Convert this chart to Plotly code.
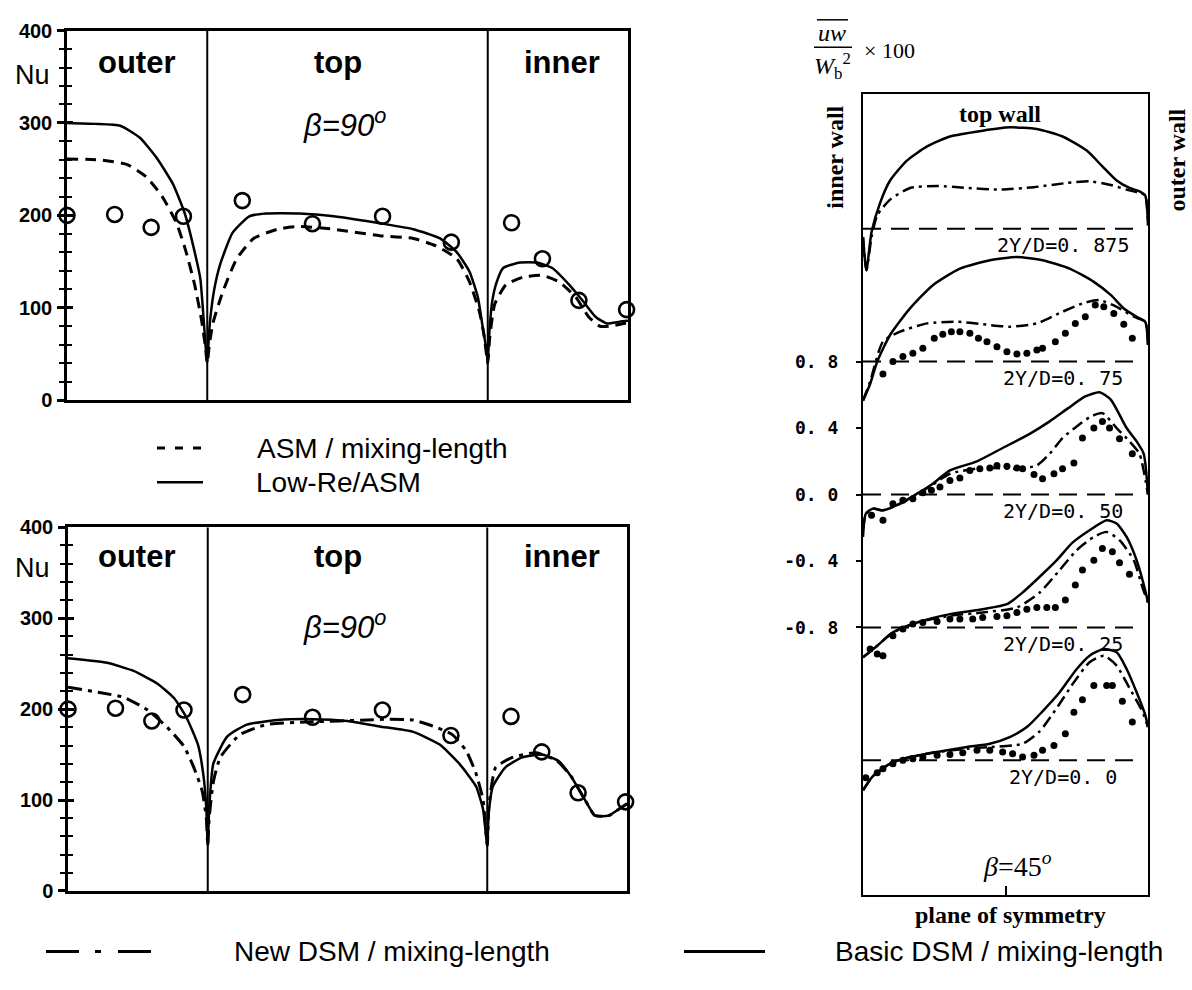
import plotly.graph_objects as go

# ---------------- data : Nusselt number (left panels) ----------------
SECTION_EDGES = [1, 3]                      # outer | top | inner wall boundaries
SECTION_LABELS = ["outer", "top", "inner"]
NU_TICKS = [0, 100, 200, 300, 400]

EXP_X = [0.0, 0.34, 0.60, 0.83, 1.25, 1.75, 2.25, 2.74, 3.17, 3.39, 3.65, 3.99]
EXP_NU = [200, 201, 187, 199, 216, 191, 199, 171, 192, 153, 108, 98]

ASM_X = [0, 0.235, 0.43, 0.57, 0.68, 0.78, 0.85, 0.91, 0.96, 0.985, 1.0, 1.015, 1.04, 1.11, 1.21,
         1.33, 1.50, 1.66, 1.9, 2.23, 2.47, 2.63, 2.78, 2.87, 2.94, 2.975, 3.0, 3.015, 3.05, 3.13,
         3.25, 3.39, 3.51, 3.63, 3.72, 3.8, 3.87, 4.0]
ASM_NU = [261, 260, 255, 241, 220, 192, 160, 125, 86, 60, 40, 60, 83, 117, 153,
          175, 185, 188, 185, 178, 175, 167, 153, 128, 96, 69, 40, 69, 104, 125,
          133, 135, 128, 111, 90, 80, 80, 84]

LOWRE_X = [0, 0.2, 0.38, 0.52, 0.64, 0.755, 0.84, 0.90, 0.95, 0.975, 0.99, 1.0, 1.01, 1.02, 1.05,
           1.09, 1.18, 1.30, 1.42, 1.66, 1.9, 2.25, 2.47, 2.66, 2.78, 2.87, 2.93, 2.96, 2.99, 3.0,
           3.01, 3.03, 3.06, 3.11, 3.23, 3.35, 3.46, 3.58, 3.68, 3.77, 3.85, 3.94, 4.0]
LOWRE_NU = [300, 299, 297, 284, 262, 234, 202, 167, 132, 86, 55, 40, 65, 86, 120,
            146, 181, 199, 202, 202, 199, 191, 185, 175, 160, 139, 111, 83, 55, 40,
            70, 105, 126, 143, 149, 149, 143, 125, 107, 90, 83, 85, 86]

NEWDSM_X = [0, 0.235, 0.40, 0.57, 0.71, 0.83, 0.9, 0.96, 0.99, 1.0, 1.01, 1.04, 1.09, 1.23, 1.42,
            1.75, 2.14, 2.3, 2.47, 2.6, 2.75, 2.85, 2.92, 2.97, 3.0, 3.01, 3.03, 3.06, 3.18, 3.35,
            3.5, 3.6, 3.7, 3.77, 3.87, 3.97, 4.0]
NEWDSM_NU = [224, 218, 213, 199, 180, 159, 136, 110, 80, 50, 80, 120, 147, 172, 183,
             186, 188, 189, 188, 182, 172, 154, 129, 100, 50, 90, 115, 136, 147, 152,
             143, 126, 100, 83, 83, 93, 96]

BASICDSM_X = [0, 0.28, 0.47, 0.64, 0.76, 0.85, 0.93, 0.97, 0.99, 1.0, 1.01, 1.04, 1.14, 1.28, 1.5,
              1.75, 2.0, 2.23, 2.47, 2.66, 2.8, 2.92, 2.97, 3.0, 3.01, 3.04, 3.13, 3.25, 3.39, 3.51,
              3.6, 3.7, 3.77, 3.87, 3.97, 4.0]
BASICDSM_NU = [256, 251, 242, 228, 212, 190, 161, 126, 90, 50, 90, 140, 170, 183, 188,
               189, 187, 181, 175, 161, 140, 115, 90, 50, 85, 115, 136, 147, 150, 143,
               126, 100, 83, 83, 93, 96]

# ---------------- data : uw / Wb^2 x 100 profiles (right panel) ----------------
PROFILE_LABELS = ["2Y/D=0. 875", "2Y/D=0. 75", "2Y/D=0. 50", "2Y/D=0. 25", "2Y/D=0. 0"]
PROFILE_OFFSETS = [1.6, 0.8, 0.0, -0.8, -1.6]
UW_TICKS = [0.8, 0.4, 0.0, -0.4, -0.8]
UW_TICK_TEXT = ["0. 8", "0. 4", "0. 0", "-0. 4", "-0. 8"]

BASIC_875_X = [0.0, 0.012, 0.03, 0.06, 0.095, 0.154, 0.225, 0.305, 0.42, 0.515, 0.61, 0.70, 0.785,
               0.84, 0.89, 0.935, 0.97, 0.99, 1.0]
BASIC_875 = [-0.05, -0.25, -0.02, 0.155, 0.29, 0.41, 0.495, 0.555, 0.59, 0.61, 0.60, 0.555, 0.47,
             0.375, 0.29, 0.245, 0.225, 0.20, 0.02]
NEW_875_X = [0.0, 0.012, 0.03, 0.05, 0.095, 0.165, 0.26, 0.365, 0.48, 0.6, 0.715, 0.795, 0.865,
             0.925, 0.97, 0.99, 1.0]
NEW_875 = [-0.05, -0.25, -0.05, 0.08, 0.175, 0.245, 0.257, 0.245, 0.235, 0.25, 0.275, 0.285, 0.265,
           0.235, 0.215, 0.2, 0.02]

BASIC_75_X = [0.0, 0.025, 0.05, 0.095, 0.165, 0.245, 0.34, 0.445, 0.54, 0.63, 0.725, 0.81, 0.87,
              0.915, 0.96, 0.99, 1.0]
BASIC_75 = [-0.235, -0.135, 0.0, 0.16, 0.32, 0.46, 0.56, 0.61, 0.63, 0.61, 0.56, 0.48, 0.40,
            0.32, 0.27, 0.24, 0.10]
NEW_75_X = [0.0, 0.025, 0.07, 0.13, 0.225, 0.33, 0.42, 0.515, 0.61, 0.70, 0.77, 0.83, 0.89,
            0.95, 0.99, 1.0]
NEW_75 = [-0.235, -0.12, 0.12, 0.18, 0.23, 0.24, 0.225, 0.21, 0.23, 0.30, 0.35, 0.37, 0.33,
          0.27, 0.24, 0.10]
EXP_75_X = [0.07, 0.105, 0.14, 0.175, 0.21, 0.25, 0.28, 0.31, 0.34, 0.375, 0.405, 0.435, 0.47,
            0.505, 0.54, 0.575, 0.61, 0.63, 0.675, 0.71, 0.745, 0.78, 0.815, 0.845, 0.88, 0.915, 0.945]
EXP_75 = [-0.075, 0.0, 0.03, 0.05, 0.08, 0.14, 0.165, 0.18, 0.18, 0.17, 0.14, 0.12, 0.09,
          0.06, 0.045, 0.05, 0.07, 0.08, 0.12, 0.17, 0.23, 0.27, 0.34, 0.33, 0.29, 0.225, 0.14]

BASIC_50_X = [0.0, 0.01, 0.035, 0.07, 0.13, 0.19, 0.245, 0.305, 0.4, 0.49, 0.585, 0.655, 0.72,
              0.78, 0.83, 0.87, 0.925, 0.96, 0.985, 1.0]
BASIC_50 = [-0.255, -0.115, -0.085, -0.095, -0.055, 0.005, 0.065, 0.145, 0.20, 0.28, 0.365, 0.44,
            0.52, 0.59, 0.615, 0.57, 0.40, 0.32, 0.245, 0.0]
NEW_50_X = [0.0, 0.01, 0.035, 0.07, 0.13, 0.19, 0.245, 0.305, 0.42, 0.54, 0.61, 0.655, 0.70,
            0.75, 0.80, 0.84, 0.89, 0.935, 0.97, 1.0]
NEW_50 = [-0.21, -0.12, -0.085, -0.095, -0.055, 0.0, 0.06, 0.125, 0.16, 0.155, 0.175, 0.245,
          0.34, 0.41, 0.47, 0.49, 0.40, 0.32, 0.245, 0.0]
EXP_50_X = [0.03, 0.07, 0.105, 0.14, 0.175, 0.21, 0.24, 0.27, 0.305, 0.34, 0.375, 0.41, 0.445,
            0.47, 0.505, 0.54, 0.56, 0.6, 0.63, 0.67, 0.70, 0.74, 0.77, 0.81, 0.84, 0.865, 0.90, 0.945]
EXP_50 = [-0.125, -0.155, -0.055, -0.035, -0.025, 0.01, 0.025, 0.045, 0.085, 0.10, 0.145, 0.155,
          0.16, 0.175, 0.17, 0.16, 0.155, 0.12, 0.095, 0.125, 0.155, 0.19, 0.34, 0.40, 0.44, 0.40,
          0.335, 0.245]

BASIC_25_X = [0.0, 0.05, 0.105, 0.19, 0.305, 0.42, 0.505, 0.56, 0.62, 0.68, 0.735, 0.795, 0.855,
              0.89, 0.925, 0.96, 0.99, 1.0]
BASIC_25 = [-0.18, -0.11, -0.03, 0.03, 0.08, 0.11, 0.14, 0.21, 0.305, 0.405, 0.51, 0.585, 0.645,
            0.625, 0.545, 0.405, 0.225, 0.15]
NEW_25_X = [0.0, 0.05, 0.105, 0.19, 0.305, 0.42, 0.54, 0.62, 0.69, 0.75, 0.81, 0.855, 0.9,
            0.95, 0.98, 1.0]
NEW_25 = [-0.18, -0.11, -0.03, 0.03, 0.07, 0.09, 0.12, 0.21, 0.345, 0.465, 0.545, 0.575, 0.525,
          0.405, 0.245, 0.15]
EXP_25_X = [0.025, 0.05, 0.07, 0.105, 0.14, 0.175, 0.21, 0.26, 0.305, 0.34, 0.385, 0.42, 0.47,
            0.505, 0.54, 0.575, 0.61, 0.645, 0.675, 0.71, 0.745, 0.77, 0.81, 0.84, 0.875, 0.9, 0.935]
EXP_25 = [-0.13, -0.16, -0.17, -0.05, -0.01, 0.02, 0.03, 0.035, 0.05, 0.05, 0.05, 0.06, 0.065,
          0.07, 0.09, 0.11, 0.12, 0.12, 0.12, 0.165, 0.255, 0.345, 0.405, 0.475, 0.455, 0.39, 0.32]

BASIC_0_X = [0.0, 0.035, 0.095, 0.165, 0.26, 0.365, 0.445, 0.515, 0.575, 0.63, 0.69, 0.75, 0.795,
             0.845, 0.89, 0.925, 0.96, 0.99, 1.0]
BASIC_0 = [-0.18, -0.095, -0.02, 0.02, 0.05, 0.08, 0.10, 0.14, 0.20, 0.295, 0.41, 0.55, 0.63,
           0.67, 0.65, 0.55, 0.41, 0.275, 0.2]
NEW_0_X = [0.0, 0.035, 0.095, 0.165, 0.26, 0.365, 0.445, 0.56, 0.62, 0.68, 0.74, 0.795, 0.845,
           0.89, 0.935, 0.98, 1.0]
NEW_0 = [-0.18, -0.095, -0.02, 0.02, 0.05, 0.07, 0.08, 0.10, 0.175, 0.315, 0.47, 0.59, 0.63,
         0.57, 0.435, 0.295, 0.2]
EXP_0_X = [0.01, 0.05, 0.07, 0.105, 0.14, 0.175, 0.21, 0.26, 0.305, 0.35, 0.4, 0.445, 0.49,
           0.525, 0.56, 0.6, 0.63, 0.67, 0.71, 0.74, 0.77, 0.81, 0.855, 0.875, 0.91, 0.945]
EXP_0 = [-0.105, -0.075, -0.05, -0.02, 0.0, 0.01, 0.02, 0.03, 0.035, 0.045, 0.06, 0.06, 0.05,
         0.04, 0.02, 0.03, 0.06, 0.09, 0.16, 0.29, 0.365, 0.45, 0.45, 0.45, 0.355, 0.23]

BASIC_PROFILES = [(BASIC_875_X, BASIC_875), (BASIC_75_X, BASIC_75), (BASIC_50_X, BASIC_50),
                  (BASIC_25_X, BASIC_25), (BASIC_0_X, BASIC_0)]
NEW_PROFILES = [(NEW_875_X, NEW_875), (NEW_75_X, NEW_75), (NEW_50_X, NEW_50),
                (NEW_25_X, NEW_25), (NEW_0_X, NEW_0)]
EXP_PROFILES = [None, (EXP_75_X, EXP_75), (EXP_50_X, EXP_50), (EXP_25_X, EXP_25), (EXP_0_X, EXP_0)]

# ---------------- figure ----------------
W, H = 1192, 990
def px(x):
    return x / W
def py(y):
    return 1 - y / H

SANS = "Liberation Sans, Arial, Helvetica, sans-serif"
SERIF = "Liberation Serif, Times New Roman, serif"
MONO = "DejaVu Sans Mono, monospace"
K = "black"

fig = go.Figure()

def line(x, y, xa, ya, dash="solid", width=2.5, smooth=0.6):
    fig.add_trace(go.Scatter(x=x, y=y, xaxis=xa, yaxis=ya, mode="lines",
                             line=dict(color=K, width=width, dash=dash,
                                       shape="spline" if smooth else "linear",
                                       smoothing=smooth if smooth else 1),
                             showlegend=False, hoverinfo="skip"))

DASH_ASM = "11px,7px"
DASH_NEW = "14px,6px,4px,6px"

# top-left panel
line(ASM_X, ASM_NU, "x", "y", DASH_ASM, 3, 0.5)
line(LOWRE_X, LOWRE_NU, "x", "y", "solid", 2.5, 0.5)
# bottom-left panel
line(NEWDSM_X, NEWDSM_NU, "x2", "y2", DASH_NEW, 3, 0.5)
line(BASICDSM_X, BASICDSM_NU, "x2", "y2", "solid", 2.5, 0.5)
for xa, ya in (("x", "y"), ("x2", "y2")):
    fig.add_trace(go.Scatter(x=EXP_X, y=EXP_NU, xaxis=xa, yaxis=ya, mode="markers",
                             marker=dict(symbol="circle-open", size=15, color=K,
                                         line=dict(color=K, width=2.6)),
                             cliponaxis=False, showlegend=False, hoverinfo="skip"))
# empty traces that activate the overlay axes carrying the inner tick marks
fig.add_trace(go.Scatter(x=[], y=[], xaxis="x", yaxis="y4", showlegend=False))
fig.add_trace(go.Scatter(x=[], y=[], xaxis="x2", yaxis="y5", showlegend=False))

# right panel
for off in PROFILE_OFFSETS:
    line([0, 0.965], [off, off], "x3", "y3", "18px,10px", 2, 0)
for i, off in enumerate(PROFILE_OFFSETS):
    bx, bv = BASIC_PROFILES[i]
    nx, nv = NEW_PROFILES[i]
    line(nx, [off + v for v in nv], "x3", "y3", "12px,5px,3px,5px", 2.5, 0.6)
    line(bx, [off + v for v in bv], "x3", "y3", "solid", 2.5, 0.6)
    if EXP_PROFILES[i] is not None:
        ex, ev = EXP_PROFILES[i]
        fig.add_trace(go.Scatter(x=ex, y=[off + v for v in ev], xaxis="x3", yaxis="y3",
                                 mode="markers", marker=dict(size=7, color=K),
                                 showlegend=False, hoverinfo="skip"))

# ---------------- axes ----------------
def nu_xaxis(dom, anchor):
    return dict(domain=dom, anchor=anchor, range=[0, 4], showline=True, mirror=True,
                linecolor=K, linewidth=2.5, ticks="", showticklabels=False,
                showgrid=False, zeroline=False)

def nu_yaxis(dom, anchor):
    return dict(domain=dom, anchor=anchor, range=[0, 400], showline=True, mirror=True,
                linecolor=K, linewidth=2.5, tickvals=NU_TICKS, ticks="outside", ticklen=7,
                tickwidth=2.5, tickcolor=K,
                minor=dict(dtick=20, ticks="outside", ticklen=5, tickwidth=2, tickcolor=K),
                tickfont=dict(family=SANS, size=20, color=K, weight="bold"),
                showgrid=False, zeroline=False, ticklabelstandoff=1)

def nu_overlay(base, anchor):
    return dict(overlaying=base, anchor=anchor, range=[0, 400], side="left",
                tickvals=NU_TICKS, ticks="inside", ticklen=6, tickwidth=2.5, tickcolor=K,
                minor=dict(dtick=20, ticks="inside", ticklen=5, tickwidth=2, tickcolor=K),
                showticklabels=False, showline=False, showgrid=False, zeroline=False)

fig.update_layout(
    width=W, height=H, margin=dict(l=0, r=0, t=0, b=0),
    paper_bgcolor="white", plot_bgcolor="white", showlegend=False,
    xaxis=nu_xaxis([px(67), px(628)], "y"),
    yaxis=nu_yaxis([py(398), py(20)], "x"),
    xaxis2=nu_xaxis([px(68), px(627)], "y2"),
    yaxis2=nu_yaxis([py(900), py(528)], "x2"),
    yaxis4=nu_overlay("y", "x"),
    yaxis5=nu_overlay("y2", "x2"),
    xaxis3=dict(domain=[px(863), px(1148)], anchor="y3", range=[0, 1], showline=True,
                mirror=True, linecolor=K, linewidth=2, tickvals=[0.5], ticks="inside",
                ticklen=9, tickwidth=2, tickcolor=K, showticklabels=False,
                showgrid=False, zeroline=False),
    yaxis3=dict(domain=[py(904), py(85)], anchor="x3", range=[-2.41, 2.41], showline=True,
                mirror=True, linecolor=K, linewidth=2, tickvals=UW_TICKS,
                ticktext=UW_TICK_TEXT, ticks="outside", ticklen=5, tickwidth=2, tickcolor=K,
                tickfont=dict(family=MONO, size=18, color=K, weight="bold"),
                ticklabelstandoff=14, showgrid=False, zeroline=False),
)

# section dividers
shapes = []
for xa, ya in (("x", "y"), ("x2", "y2")):
    for e in SECTION_EDGES:
        shapes.append(dict(type="line", xref=xa, yref=ya, x0=e, x1=e, y0=0, y1=400,
                           line=dict(color=K, width=2)))

ann = []
def text(x, y, s, size, family=SANS, weight="normal", xanchor="center", angle=0):
    ann.append(dict(x=px(x), y=py(y), xref="paper", yref="paper", text=s, showarrow=False,
                    xanchor=xanchor, yanchor="middle", textangle=angle,
                    font=dict(family=family, size=size, color=K, weight=weight)))

# left panel labels
for dy, bdy in ((0, 0), (505, 513)):
    for lab, cx in zip(SECTION_LABELS, [137, 338, 562]):
        text(cx, 53 + dy, lab, 31, weight="bold")
    text(344, 115 + bdy, "<i>β=90<sup>o</sup></i>", 31)
    text(32, 65 + dy, "Nu", 27)

# legends (drawn by hand to match the original layout)
shapes.append(dict(type="line", xref="paper", yref="paper", x0=px(157), x1=px(203),
                   y0=py(447), y1=py(447), line=dict(color=K, width=3, dash="8px,10px")))
shapes.append(dict(type="line", xref="paper", yref="paper", x0=px(157), x1=px(203),
                   y0=py(482), y1=py(482), line=dict(color=K, width=2.5)))
text(255, 447, "ASM / mixing-length", 28, xanchor="left")
text(254, 482, "Low-Re/ASM", 28, xanchor="left")

shapes.append(dict(type="line", xref="paper", yref="paper", x0=px(46), x1=px(152),
                   y0=py(962), y1=py(962),
                   line=dict(color=K, width=3, dash="33px,16px,6px,17px")))
shapes.append(dict(type="line", xref="paper", yref="paper", x0=px(684), x1=px(765),
                   y0=py(962), y1=py(962), line=dict(color=K, width=3)))
text(232, 962, "New DSM / mixing-length", 28, xanchor="left")
text(833, 962, "Basic DSM / mixing-length", 28, xanchor="left")

# right panel labels
for lab, off in zip(PROFILE_LABELS, PROFILE_OFFSETS):
    ann.append(dict(x=0.70, y=off - 0.1, xref="x3", yref="y3", text=lab, showarrow=False,
                    xanchor="center", yanchor="middle",
                    font=dict(family=MONO, size=20, color=K)))
text(1000, 105, "top wall", 24, family=SERIF, weight="bold")
text(835, 150, "inner wall", 24, family=SERIF, weight="bold", angle=-90)
text(1177, 153, "outer wall", 24, family=SERIF, weight="bold", angle=-90)
text(1017, 873, "<i>β</i>=45<sup><i>o</i></sup>", 28, family=SERIF)
text(1010, 925, "plane of symmetry", 24, family=SERIF, weight="bold")

# axis quantity: overline(uw) / W_b^2  x 100
text(832, 22, "<i>uw</i>", 24, family=SERIF)
text(832, 56, "<i>W</i><sub>b</sub><sup>2</sup>", 24, family=SERIF)
text(862, 40, "× 100", 22, family=SERIF, xanchor="left")
shapes.append(dict(type="line", xref="paper", yref="paper", x0=px(817), x1=px(848),
                   y0=py(9), y1=py(9), line=dict(color=K, width=1.5)))
shapes.append(dict(type="line", xref="paper", yref="paper", x0=px(814), x1=px(852),
                   y0=py(37), y1=py(37), line=dict(color=K, width=1.5)))

fig.update_layout(shapes=shapes, annotations=ann)
fig.write_html("out.html")
